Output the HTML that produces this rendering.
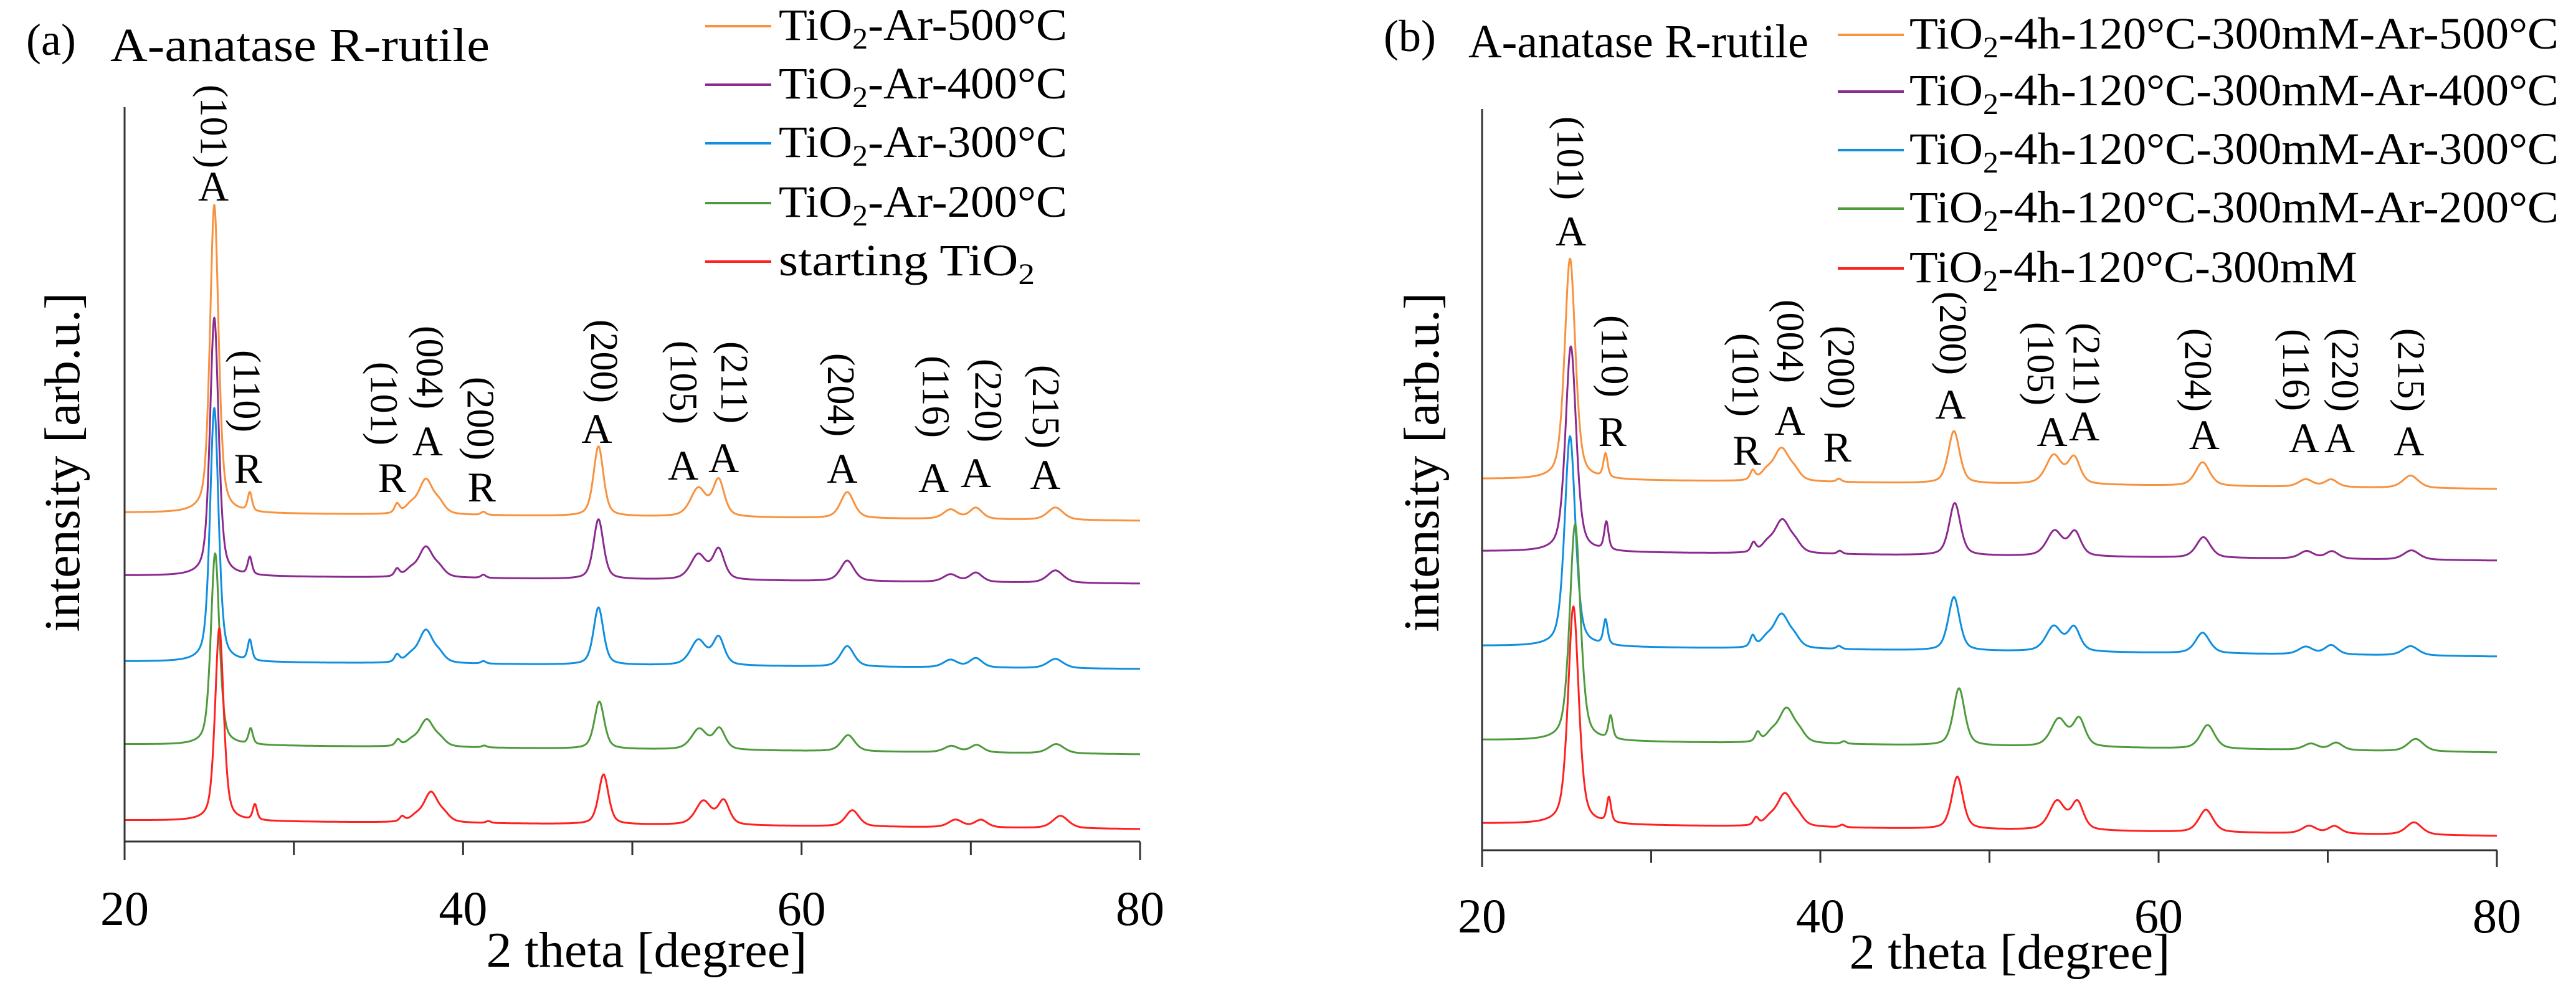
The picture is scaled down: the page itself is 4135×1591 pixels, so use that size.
<!DOCTYPE html>
<html><head><meta charset="utf-8">
<style>
html,body{margin:0;padding:0;background:#fff;}
svg{display:block;}
text,tspan{font-family:"Liberation Serif","DejaVu Serif",serif;}
</style></head>
<body>
<svg id="chart" width="4135" height="1591" viewBox="0 0 4135 1591" xmlns="http://www.w3.org/2000/svg"></svg>
<script>
// ---- data ----
const peakPos = [25.3, 27.4, 36.1, 36.9, 37.8, 38.6, 41.2, 48.0, 53.9, 55.1, 62.7, 68.8, 70.3, 75.0];
const peakWidthA = [0.6, 0.3, 0.35, 0.8, 1.0, 0.8, 0.35, 0.7, 1.1, 0.8, 0.95, 1.0, 0.9, 1.1];
const peakWidthB = [0.75, 0.3, 0.35, 0.8, 1.1, 0.8, 0.35, 0.8, 1.1, 0.85, 1.0, 1.0, 0.9, 1.1];
const seriesNames = ["500", "400", "300", "200", "start"];
const colors = ["#F7923F", "#8B2A8F", "#0E8FE0", "#4E9A3C", "#FF2020"];
// panel (a)
const shiftA = [0, 0, 0, 0.05, 0.3];
const baseStartA = [528, 427, 289, 156, 34];
const baseEndA = [515, 414, 277, 140, 20];
const ampA = [
  [495, 30, 15, 12, 55, 15, 5, 112, 45, 58, 42, 15, 18, 20],
  [415, 28, 12, 10, 48, 12, 5, 96, 40, 48, 33, 12, 15, 20],
  [408, 33, 12, 10, 52, 12, 4, 92, 40, 44, 33, 12, 15, 15],
  [308, 25, 10, 8, 43, 10, 3, 76, 33, 33, 26, 10, 12, 15],
  [310, 25, 8, 8, 48, 10, 3, 80, 38, 38, 26, 12, 12, 20]
];
// panel (b)
const shiftB = [-0.1, -0.05, -0.1, 0.2, 0.1];
const baseStartB = [596, 480, 328, 177, 43];
const baseEndB = [580, 465, 311, 157, 23];
const ampB = [
  [355, 38, 15, 12, 52, 12, 5, 84, 46, 42, 38, 12, 12, 20],
  [330, 45, 15, 12, 53, 12, 5, 84, 40, 38, 33, 12, 12, 15],
  [338, 40, 18, 12, 54, 12, 5, 86, 40, 38, 33, 12, 15, 15],
  [348, 37, 15, 12, 55, 12, 4, 92, 44, 44, 38, 10, 12, 20],
  [350, 40, 12, 10, 52, 12, 4, 84, 46, 44, 36, 12, 12, 20]
];
const tickValues = [20, 30, 40, 50, 60, 70, 80];
const tickLabels = ["20", "", "40", "", "60", "", "80"];
const legendA = ["-Ar-500°C", "-Ar-400°C", "-Ar-300°C", "-Ar-200°C", "starting"];
const legendB = ["-4h-120°C-300mM-Ar-500°C", "-4h-120°C-300mM-Ar-400°C", "-4h-120°C-300mM-Ar-300°C", "-4h-120°C-300mM-Ar-200°C", "-4h-120°C-300mM"];
// annotations: [2theta, text, kind(h=hkl,l=letter), y]
const annA = [
 [25.25,"(101)","h",203],[25.25,"A","l",322],[27.2,"(110)","h",628],[27.3,"R","l",775],
 [35.3,"(101)","h",648],[35.8,"R","l",790],[38.0,"(004)","h",590],[37.9,"A","l",731],
 [41.0,"(200)","h",672],[41.1,"R","l",805],[48.3,"(200)","h",580],[47.9,"A","l",711],
 [53.0,"(105)","h",614],[53.0,"A","l",770],[56.0,"(211)","h",614],[55.4,"A","l",758],
 [62.3,"(204)","h",634],[62.4,"A","l",775],[67.9,"(116)","h",637],[67.8,"A","l",790],
 [71.0,"(220)","h",643],[70.3,"A","l",782],[74.4,"(215)","h",653],[74.4,"A","l",785]
];
const annB = [
 [25.2,"(101)","h",254],[25.25,"A","l",394],[27.8,"(110)","h",572],[27.7,"R","l",716],
 [35.55,"(101)","h",602],[35.65,"R","l",746],[38.2,"(004)","h",548],[38.2,"A","l",698],
 [41.2,"(200)","h",590],[41.0,"R","l",741],[47.8,"(200)","h",535],[47.7,"A","l",672],
 [53.0,"(105)","h",584],[53.7,"A","l",716],[55.7,"(211)","h",584],[55.6,"A","l",707],
 [62.3,"(204)","h",594],[62.7,"A","l",721],[68.1,"(116)","h",594],[68.6,"A","l",726],
 [71.0,"(220)","h",594],[70.7,"A","l",726],[74.9,"(215)","h",594],[74.8,"A","l",731]
];

const NS = "http://www.w3.org/2000/svg";
const svg = document.getElementById("chart");
const FONT = '"Liberation Serif", "DejaVu Serif", serif';
function mk(tag, attrs, parent) {
  const e = document.createElementNS(NS, tag);
  for (const k in attrs) e.setAttribute(k, attrs[k]);
  if (tag === "text") e.setAttribute("font-family", FONT);
  (parent || svg).appendChild(e);
  return e;
}
function profile(x, c, w) {
  const d = (x - c) / (w / 2);
  return 0.5 * Math.exp(-0.6931 * d * d) + 0.5 / (1 + d * d);
}

function panel(cfg) {
  const g = mk("g", {});
  
  
  const xs = v => cfg.x0 + (v - 20) / 60 * (cfg.x1 - cfg.x0);
  const ys = v => cfg.axisY - v;
  for (let s = 0; s < 5; s++) {
    let d = "";
    for (let t = 20; t <= 80.0001; t += 0.02) {
      let v = cfg.bs[s] + (cfg.be[s] - cfg.bs[s]) * (t - 20) / 60;
      for (let p = 0; p < peakPos.length; p++) v += cfg.amp[s][p] * profile(t, peakPos[p] + cfg.shift[s], cfg.widths[p]);
      d += (d ? "L" : "M") + xs(t).toFixed(1) + "," + ys(v).toFixed(1);
    }
    const path = mk("path", {d: d, fill: "none", stroke: colors[s], "stroke-width": 3, "stroke-linejoin": "round"}, g);
    
    
  }
  const ya = mk("line", {x1: cfg.x0, y1: cfg.axisTop, x2: cfg.x0, y2: cfg.axisY, stroke: "#333", "stroke-width": 3}, g);
  
  
  const xa = mk("line", {x1: cfg.x0, y1: cfg.axisY, x2: cfg.x1, y2: cfg.axisY, stroke: "#333", "stroke-width": 3}, g);
  
  
  tickValues.forEach((tv, i) => {
    const end = (i === 0 || i === tickValues.length - 1) ? cfg.longTick : cfg.shortTick;
    const tk = mk("line", {x1: xs(tv), y1: cfg.axisY, x2: xs(tv), y2: cfg.axisY + end, stroke: "#333", "stroke-width": 3}, g);
    
    
    if (tickLabels[i]) {
      const tl = mk("text", {x: xs(tv), y: cfg.tickY, "font-size": 78, "text-anchor": "middle", fill: "#000"}, g);
      tl.textContent = tickLabels[i];
      
      
    }
  });
  const xt = mk("text", {x: cfg.xTitleX, y: cfg.xTitleY, "font-size": 80, "text-anchor": "middle", textLength: 515, lengthAdjust: "spacingAndGlyphs"}, g);
  xt.textContent = "2 theta [degree]";
  
  
  const yt = mk("text", {x: 0, y: 0, "font-size": 80, "text-anchor": "middle", "dominant-baseline": "central", textLength: 545, lengthAdjust: "spacingAndGlyphs", transform: `translate(${cfg.yTitleX},742) rotate(-90)`}, g);
  yt.textContent = "intensity [arb.u.]";
  
  
  cfg.ann.forEach(a => {
    let t;
    if (a[2] === "h") {
      t = mk("text", {x: 0, y: 0, "font-size": 62, "text-anchor": "middle", "dominant-baseline": "central", transform: `translate(${xs(a[0]).toFixed(1)},${a[3]}) rotate(90)`}, g);
      
    } else {
      t = mk("text", {x: xs(a[0]).toFixed(1), y: a[3], "font-size": 68, "text-anchor": "middle"}, g);
      
    }
    
    t.textContent = a[1];
  });
  const pl = mk("text", {x: cfg.plX, y: cfg.headY - 10, "font-size": 72}, g);
  pl.textContent = cfg.panelLabel;
  
  
  const ph = mk("text", {x: cfg.phX, y: cfg.headY, "font-size": 76, textLength: cfg.phW, lengthAdjust: "spacingAndGlyphs"}, g);
  ph.textContent = "A-anatase R-rutile";
  
  
  for (let s = 0; s < 5; s++) {
    const ly = cfg.legY[s];
    const lg = mk("g", {}, g);
    
    
    mk("line", {x1: cfg.legX0, y1: ly, x2: cfg.legX1, y2: ly, stroke: colors[s], "stroke-width": 4}, lg);
    const tx = mk("text", {x: cfg.legTX, y: ly + 22, "font-size": 72, textLength: (s === 4 ? cfg.legW2 : cfg.legW), lengthAdjust: "spacingAndGlyphs"}, lg);
    const lab = cfg.legend[s];
    if (lab === "starting") {
      tx.appendChild(document.createTextNode("starting TiO"));
      const sub = mk("tspan", {"font-size": 48, dy: 14}, tx); sub.textContent = "2";
    } else {
      tx.appendChild(document.createTextNode("TiO"));
      const sub = mk("tspan", {"font-size": 48, dy: 14}, tx); sub.textContent = "2";
      const rest = mk("tspan", {"font-size": 72, dy: -14}, tx); rest.textContent = lab;
    }
  }
}

panel({name: "panel-a", x0: 200, x1: 1830, axisY: 1351, axisTop: 172, shortTick: 22, longTick: 30, tickY: 1485,
  xTitleX: 1038, xTitleY: 1552, yTitleX: 101, shift: shiftA, bs: baseStartA, be: baseEndA, amp: ampA, widths: peakWidthA, ann: annA,
  plX: 42, phX: 177, phW: 609, headY: 98, panelLabel: "(a)", legend: legendA,
  legY: [42, 136, 230, 326, 420], legX0: 1132, legX1: 1238, legTX: 1250, legW: 463, legW2: 411});
panel({name: "panel-b", x0: 2379, x1: 4008, axisY: 1365, axisTop: 175, shortTick: 20, longTick: 27, tickY: 1497,
  xTitleX: 3226, xTitleY: 1555, yTitleX: 2283, shift: shiftB, bs: baseStartB, be: baseEndB, amp: ampB, widths: peakWidthB, ann: annB,
  plX: 2221, phX: 2357, phW: 546, headY: 92, panelLabel: "(b)", legend: legendB,
  legY: [56, 147, 241, 335, 431], legX0: 2950, legX1: 3056, legTX: 3065, legW: 1042, legW2: 719});
</script>
</body></html>
